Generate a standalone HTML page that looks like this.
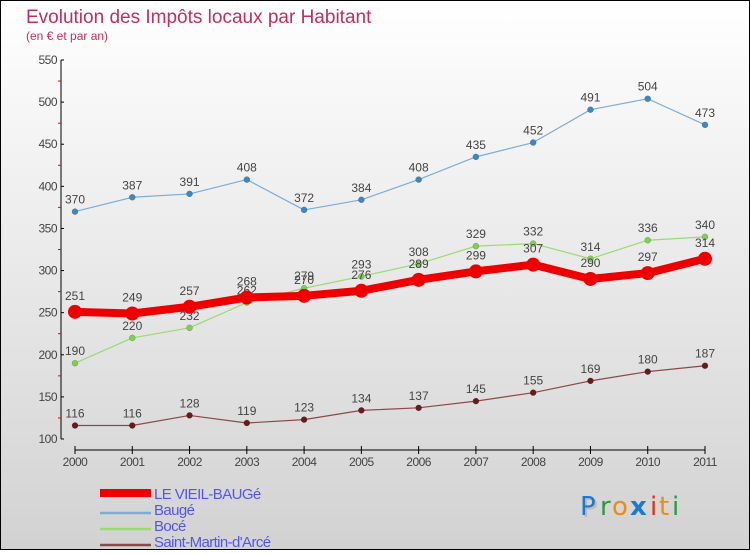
<!DOCTYPE html>
<html><head><meta charset="utf-8"><style>
html,body{margin:0;padding:0}
body{width:750px;height:550px;overflow:hidden;font-family:"Liberation Sans","DejaVu Sans",sans-serif}
#wrap{position:relative;width:748px;height:548px;border:1px solid #000;background:linear-gradient(#ffffff,#d2d2d2)}
</style></head><body>
<div id="wrap">
<svg id="chart" width="748" height="548" viewBox="1 1 748 548" xmlns="http://www.w3.org/2000/svg">
<text x="26" y="23" font-size="19" fill="#c0305a">Evolution des Impôts locaux par Habitant</text>
<text x="26" y="40" font-size="12" fill="#c0305a">(en € et par an)</text>
<g id="axes"></g>
<g id="series"></g>
<g id="legend"></g>
<g font-size="26" font-family="'DejaVu Sans',sans-serif">
<text x="582" y="517" fill="#bbb">P</text>
<text x="580" y="515" fill="#1a7ad0">P</text><text x="600" y="515" fill="#2a9a40">r</text><text x="612" y="515" fill="#f08a10">o</text><text x="630" y="515" fill="#1a7ad0" font-weight="bold">x</text><text x="650" y="515" fill="#e83010">i</text><text x="659" y="515" fill="#f08a10">t</text><text x="672" y="515" fill="#2a9a40">i</text>
</g>
</svg>
</div>
<script>
const years=["2000","2001","2002","2003","2004","2005","2006","2007","2008","2009","2010","2011"];
const yTicks=[100,150,200,250,300,350,400,450,500,550];
const vieil=[251,249,257,268,270,276,289,299,307,290,297,314];
const bauge=[370,387,391,408,372,384,408,435,452,491,504,473];
const boce=[190,220,232,262,279,293,308,329,332,314,336,340];
const saint=[116,116,128,119,123,134,137,145,155,169,180,187];
const seriesNames=["LE VIEIL-BAUGé","Baugé","Bocé","Saint-Martin-d'Arcé"];
const NS="http://www.w3.org/2000/svg";
function X(i){return 75+i*(630/11);}
function Y(v){return 439-(v-100)*(379/450);}
function mk(tag,attrs,parent,txt){const e=document.createElementNS(NS,tag);for(const k in attrs)e.setAttribute(k,attrs[k]);if(txt!==undefined)e.textContent=txt;parent.appendChild(e);return e;}
const axes=document.getElementById('axes');
let e=mk('line',{x1:61,y1:Y(550),x2:61,y2:Y(100),stroke:'#000','stroke-width':1},axes);


e=mk('line',{x1:75,y1:450,x2:705,y2:450,stroke:'#000','stroke-width':1},axes);


yTicks.forEach(v=>{
 mk('line',{x1:61,y1:Y(v),x2:64,y2:Y(v),stroke:'#000'},axes);
 e=mk('text',{x:57,y:Y(v)+4,'font-size':12,'text-anchor':'end',fill:'#444','letter-spacing':'-0.5'},axes,String(v));
 
 
 if(v<550) mk('line',{x1:58,y1:Y(v+25),x2:61,y2:Y(v+25),stroke:'#e00'},axes);
});
years.forEach((y,i)=>{
 mk('line',{x1:X(i),y1:446,x2:X(i),y2:454,stroke:'#000'},axes);
 e=mk('text',{x:X(i),y:466,'font-size':12,'text-anchor':'middle',fill:'#444','letter-spacing':'-0.5'},axes,y);
 
 
});
const ser=document.getElementById('series');
function drawSeries(data,color,dot,w,r,name,labelBelow){
 const g=mk('g',{},ser);
 
 
 e=mk('polyline',{points:data.map((v,i)=>X(i)+','+Y(v)).join(' '),fill:'none',stroke:color,'stroke-width':w,'stroke-linejoin':'round'},g);
 
 
 data.forEach((v,i)=>{
  e=mk('circle',{cx:X(i),cy:Y(v),r:r,fill:dot,stroke:w>3?'none':'rgba(0,0,0,0.3)','stroke-width':0.5},g);
  
  
  const below=labelBelow&&labelBelow(i);
  e=mk('text',{x:X(i),y:below?Y(v)+22:Y(v)-(w>3?12:8),'font-size':12,'text-anchor':'middle',fill:'#444'},g,String(v));
  
  
 });
}
drawSeries(bauge,'#7aaed8','#3a88c8',1.2,3,'bauge-series');
drawSeries(boce,'#98dc70','#80d050',1.2,3,'boce-series');
drawSeries(saint,'#8a4a4a','#6a1a1a',1.2,3,'saint-martin-series');
drawSeries(vieil,'#ee0000','#ee0000',8,7,'vieil-bauge-series');
const leg=document.getElementById('legend');
const legColors=['#ee0000','#7aaed8','#98dc70','#8a4a4a'];
const legW=[8,2.5,2.5,2.5];
seriesNames.forEach((n,i)=>{
 const y=493+i*16;
 const g=mk('g',{},leg);
 
 
 mk('line',{x1:100,y1:y+(i?4:0),x2:151,y2:y+(i?4:0),stroke:legColors[i],'stroke-width':legW[i]},g);
 mk('text',{x:154,y:y+6,'font-size':15,fill:'#5555ee','letter-spacing':'-0.6'},g,n);
});
</script>
</body></html>
